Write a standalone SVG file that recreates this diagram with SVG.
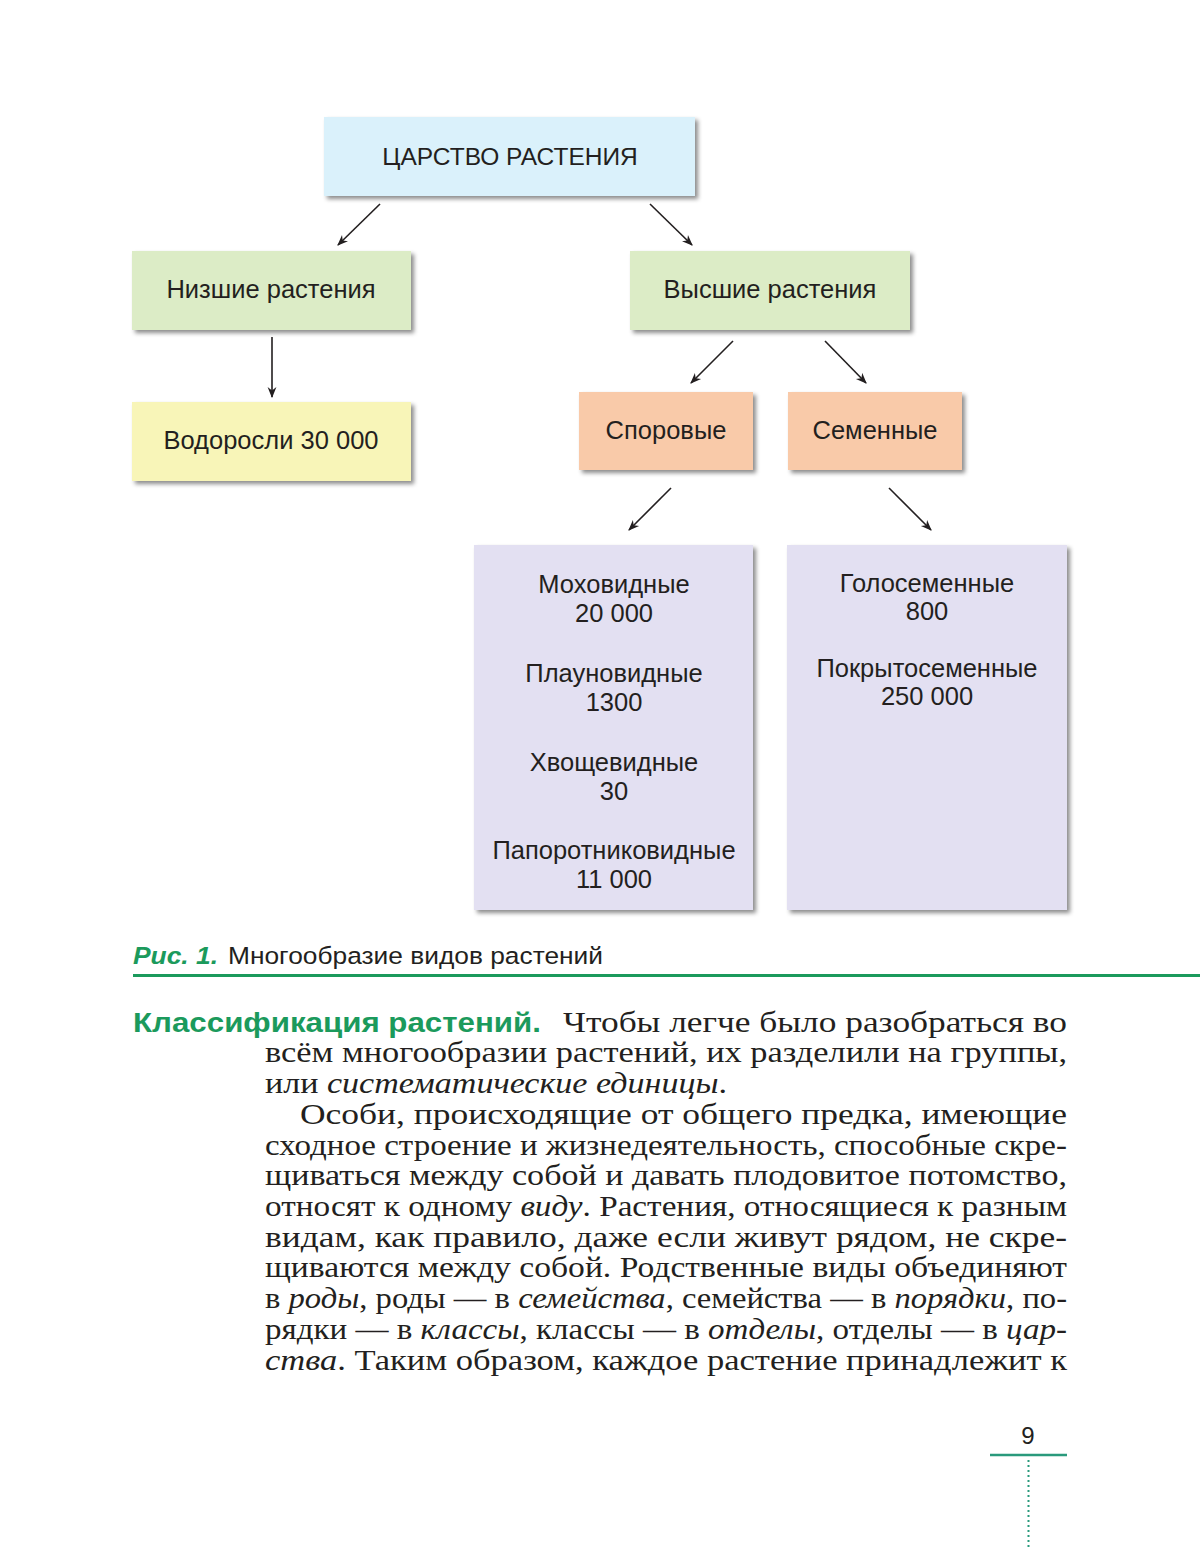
<svg xmlns="http://www.w3.org/2000/svg" width="1200" height="1549" viewBox="0 0 1200 1549">
<style>
.box{stroke:none;filter:url(#sh)}
.t{font-family:"Liberation Sans",Arial,sans-serif;font-size:25.5px;fill:#231f20;text-anchor:middle}
.c{stroke:#231f20;stroke-width:1.6;fill:none;marker-end:url(#ah)}
.b{font-family:"Liberation Serif","Times New Roman",serif;font-size:30px;fill:#231f20}
.i{font-style:italic}
</style>
<defs>
<filter id="sh" x="-5%" y="-5%" width="115%" height="120%">
<feDropShadow dx="3" dy="3" stdDeviation="2" flood-color="#000" flood-opacity="0.45"/>
</filter>
<marker id="ah" viewBox="0 0 10 10" refX="9" refY="5" markerWidth="11" markerHeight="11" markerUnits="userSpaceOnUse" orient="auto">
<path d="M0,1 L10,5 L0,9 L3,5 Z" fill="#231f20"/>
</marker>
</defs>
<rect width="1200" height="1549" fill="#ffffff"/>

<g id="n-kingdom"><rect class="box" x="324" y="117" width="371" height="79" fill="#daf1fb"/><text class="t" x="510" y="165" style="font-size:24.5px">ЦАРСТВО РАСТЕНИЯ</text></g>
<g id="n-lower"><rect class="box" x="132" y="251" width="279" height="79" fill="#dcecc6"/><text class="t" x="271" y="298">Низшие растения</text></g>
<g id="n-higher"><rect class="box" x="630" y="251" width="280" height="79" fill="#dcecc6"/><text class="t" x="770" y="298">Высшие растения</text></g>
<g id="n-algae"><rect class="box" x="132" y="402" width="279" height="79" fill="#f8f5b8"/><text class="t" x="271" y="449">Водоросли 30 000</text></g>
<g id="n-spore"><rect class="box" x="579" y="392" width="174" height="78" fill="#f9caa9"/><text class="t" x="666" y="439">Споровые</text></g>
<g id="n-seed"><rect class="box" x="788" y="392" width="174" height="78" fill="#f9caa9"/><text class="t" x="875" y="439">Семенные</text></g>
<g id="n-sporelist"><rect class="box" x="474" y="545" width="279" height="365" fill="#e3e0f2"/>
<text class="t" x="614" y="593">Моховидные</text><text class="t" x="614" y="622">20 000</text>
<text class="t" x="614" y="682">Плауновидные</text><text class="t" x="614" y="711">1300</text>
<text class="t" x="614" y="771">Хвощевидные</text><text class="t" x="614" y="800">30</text>
<text class="t" x="614" y="859">Папоротниковидные</text><text class="t" x="614" y="888">11 000</text>
</g>
<g id="n-seedlist"><rect class="box" x="787" y="545" width="280" height="365" fill="#e3e0f2"/>
<text class="t" x="927" y="592">Голосеменные</text><text class="t" x="927" y="620">800</text>
<text class="t" x="927" y="677">Покрытосеменные</text><text class="t" x="927" y="705">250 000</text>
</g>

<g id="connectors">
<line class="c" x1="380" y1="204" x2="338" y2="245"/>
<line class="c" x1="650" y1="204" x2="692" y2="245"/>
<line class="c" x1="272" y1="337" x2="272" y2="397"/>
<line class="c" x1="733" y1="341" x2="691" y2="383"/>
<line class="c" x1="825" y1="341" x2="866" y2="383"/>
<line class="c" x1="671" y1="488" x2="629" y2="530"/>
<line class="c" x1="889" y1="488" x2="931" y2="530"/>
</g>

<g id="caption">
<text x="133" y="964" font-family="Liberation Sans,Arial,sans-serif" font-size="24.5" font-weight="bold" font-style="italic" fill="#1b9a5c" textLength="85" lengthAdjust="spacingAndGlyphs">Рис. 1.</text>
<text x="228" y="964" font-family="Liberation Sans,Arial,sans-serif" font-size="24.5" fill="#231f20" textLength="375" lengthAdjust="spacingAndGlyphs">Многообразие видов растений</text>
<line x1="133" y1="975.5" x2="1200" y2="975.5" stroke="#1b9a5c" stroke-width="3"/>
</g>

<g id="body">
<text x="133" y="1032" font-family="Liberation Sans,Arial,sans-serif" font-size="27" font-weight="bold" fill="#1b9a5c" textLength="408" lengthAdjust="spacingAndGlyphs">Классификация растений.</text>
<text class="b" x="563" y="1032" textLength="504" lengthAdjust="spacingAndGlyphs">Чтобы легче было разобраться во</text>
<text class="b" x="265" y="1062" textLength="802" lengthAdjust="spacingAndGlyphs">всём многообразии растений, их разделили на группы,</text>
<text class="b" x="265" y="1093" textLength="462" lengthAdjust="spacingAndGlyphs">или <tspan class="i">систематические единицы</tspan>.</text>
<text class="b" x="300" y="1124" textLength="767" lengthAdjust="spacingAndGlyphs">Особи, происходящие от общего предка, имеющие</text>
<text class="b" x="265" y="1155" textLength="802" lengthAdjust="spacingAndGlyphs">сходное строение и жизнедеятельность, способные скре-</text>
<text class="b" x="265" y="1185" textLength="802" lengthAdjust="spacingAndGlyphs">щиваться между собой и давать плодовитое потомство,</text>
<text class="b" x="265" y="1216" textLength="802" lengthAdjust="spacingAndGlyphs">относят к одному <tspan class="i">виду</tspan>. Растения, относящиеся к разным</text>
<text class="b" x="265" y="1247" textLength="802" lengthAdjust="spacingAndGlyphs">видам, как правило, даже если живут рядом, не скре-</text>
<text class="b" x="265" y="1277" textLength="802" lengthAdjust="spacingAndGlyphs">щиваются между собой. Родственные виды объединяют</text>
<text class="b" x="265" y="1308" textLength="802" lengthAdjust="spacingAndGlyphs">в <tspan class="i">роды</tspan>, роды — в <tspan class="i">семейства</tspan>, семейства — в <tspan class="i">порядки</tspan>, по-</text>
<text class="b" x="265" y="1339" textLength="802" lengthAdjust="spacingAndGlyphs">рядки — в <tspan class="i">классы</tspan>, классы — в <tspan class="i">отделы</tspan>, отделы — в <tspan class="i">цар-</tspan></text>
<text class="b" x="265" y="1370" textLength="802" lengthAdjust="spacingAndGlyphs"><tspan class="i">ства</tspan>. Таким образом, каждое растение принадлежит к</text>
</g>

<g id="page-number">
<text x="1028" y="1444" font-family="Liberation Sans,Arial,sans-serif" font-size="24" fill="#231f20" text-anchor="middle">9</text>
<line x1="990" y1="1455" x2="1067" y2="1455" stroke="#2a9a7c" stroke-width="2.5"/>
<line x1="1028.5" y1="1460" x2="1028.5" y2="1549" stroke="#2a9a7c" stroke-width="2" stroke-dasharray="2 3"/>
</g>
</svg>
